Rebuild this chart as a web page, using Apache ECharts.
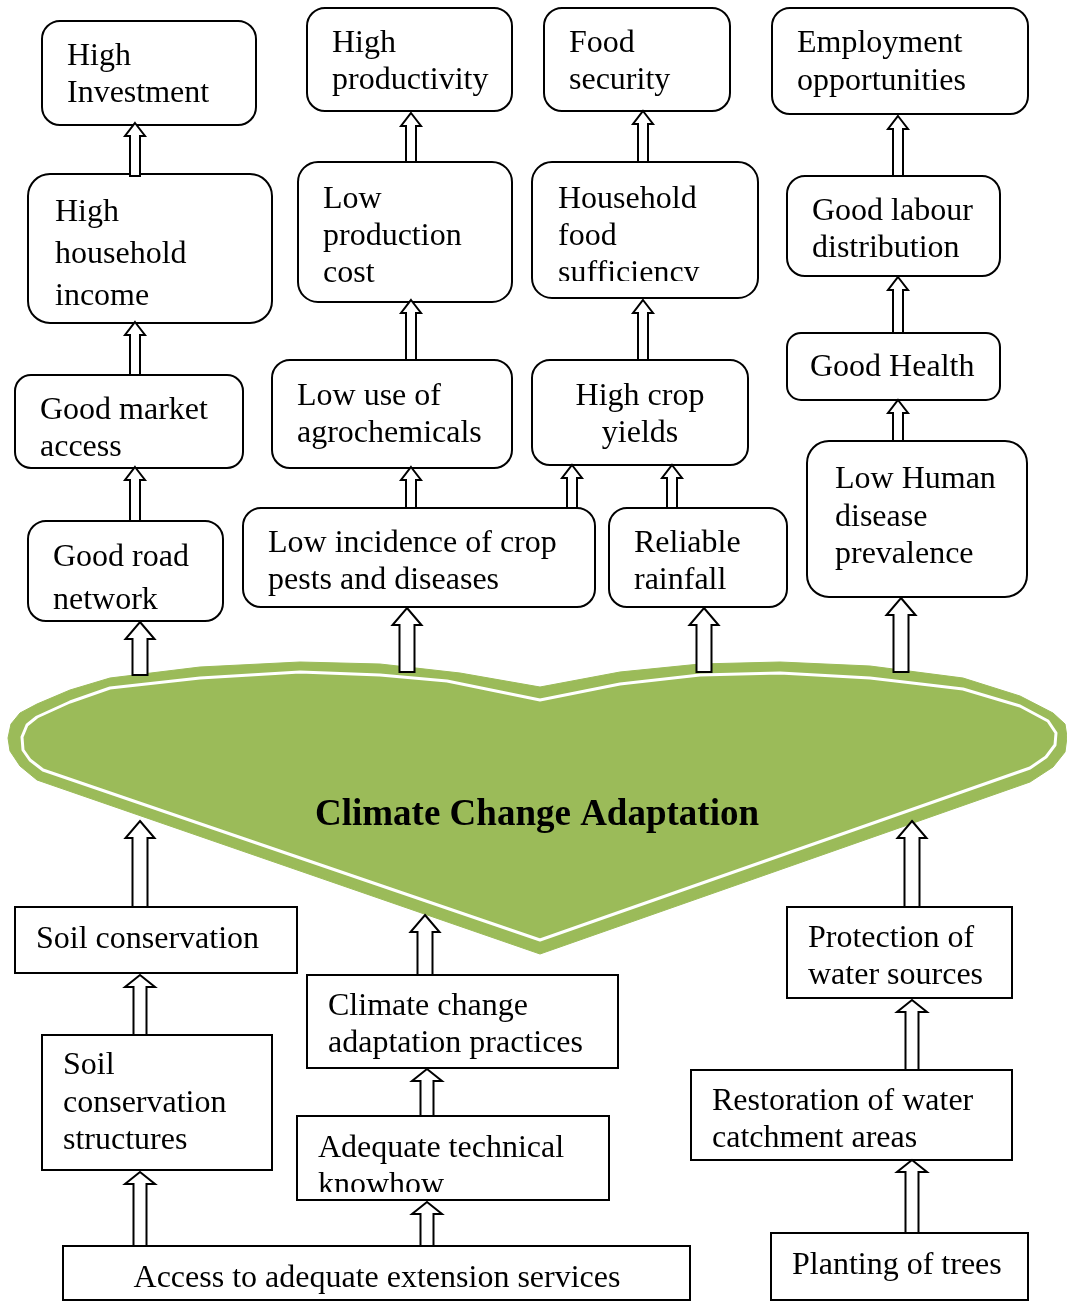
<!DOCTYPE html>
<html><head><meta charset="utf-8">
<script src="https://cdn.jsdelivr.net/npm/echarts@6/dist/echarts.min.js"></script>
<style>html,body{margin:0;padding:0;background:#fff}#c{width:1067px;height:1302px}</style>
</head><body><div id="c"></div>
<script>
// ---- Data: diagram text ----
const nodeLabels = [
  "High\nInvestment", "High\nproductivity", "Food\nsecurity", "Employment\nopportunities",
  "High\nhousehold\nincome", "Low\nproduction\ncost", "Household\nfood\nsufficiency", "Good labour\ndistribution",
  "Good market\naccess", "Low use of\nagrochemicals", "High crop\nyields", "Good Health",
  "Good road\nnetwork", "Low incidence of crop\npests and diseases", "Reliable\nrainfall", "Low Human\ndisease\nprevalence",
  "Soil conservation", "Soil\nconservation\nstructures", "Climate change\nadaptation practices", "Adequate technical\nknowhow",
  "Access to adequate extension services", "Protection of\nwater sources", "Restoration of water\ncatchment areas", "Planting of trees"
];
const centralLabel = "Climate Change Adaptation";

// ---- Layout (positions in diagram units) ----
// [x1, y1, x2, y2, textX, firstLineY, lineHeight, align, radius, clipY]
const nodeLayout = [
  [42,21,256,125, 67,54,37,'left',18],
  [307,8,512,111, 332,41,37,'left',18],
  [544,8,730,111, 569,41,37,'left',18],
  [772,8,1028,114, 797,41,38,'left',18],
  [28,174,272,323, 55,210,42,'left',22],
  [298,162,512,302, 323,197,37,'left',20],
  [532,162,758,298, 558,197,37,'left',20, 281],
  [787,176,1000,276, 812,209,37,'left',18],
  [15,375,243,468, 40,408,37,'left',16],
  [272,360,512,468, 297,394,37,'left',18],
  [532,360,748,465, 640,394,37,'center',18],
  [787,333,1000,400, 810,365,37,'left',14],
  [28,521,223,621, 53,555,43,'left',18],
  [243,508,595,607, 268,541,37,'left',18],
  [609,508,787,607, 634,541,37,'left',18],
  [807,441,1027,597, 835,477,37.5,'left',22],
  [15,907,297,973, 36,937,37,'left',0],
  [42,1035,272,1170, 63,1063,37.5,'left',0],
  [307,975,618,1068, 328,1004,37,'left',0],
  [297,1116,609,1200, 318,1146,37,'left',0, 1192],
  [63,1246,690,1300, 377,1276,37,'center',0],
  [787,907,1012,998, 808,936,37,'left',0],
  [691,1070,1012,1160, 712,1099,37,'left',0],
  [771,1233,1028,1300, 792,1263,37,'left',0]
];
const textShift = 3;

// arrows: [x, yTip, yBase, kind]
const arrowLayout = [
  [135,123,176,'s'], [411,113,162,'s'], [643,111,162,'s'], [898,116,176,'s'],
  [135,322,375,'s'], [411,300,360,'s'], [643,300,360,'s'], [898,277,333,'s'],
  [135,467,521,'s'], [411,467,508,'s'], [572,465,508,'s'], [672,465,508,'s'], [898,400,441,'s'],
  [140,622,675,'l'], [407,608,672,'l'], [704,608,672,'l'], [901,598,672,'l'],
  [140,821,907,'l'], [425,915,975,'l'], [912,821,907,'l'],
  [140,975,1035,'m'], [427,1069,1116,'m'], [912,1000,1070,'m'],
  [140,1172,1246,'m'], [427,1202,1246,'m'], [912,1160,1233,'m']
];
const arrowKinds = { s:{shaft:10, head:20, headLen:13}, m:{shaft:13, head:30, headLen:12}, l:{shaft:15, head:29, headLen:17} };

// heart-shaped banner outline
const heartOuter = [
  [540,687],[620,672],[700,664],[780,662],[870,666],[963,678],[1020,696],[1053,713],[1065,724],[1067,737],
  [1065,752],[1053,767],[1030,782],[540,954],[37,780],[20,766],[10,751],[8,738],[11,724],[20,713],[37,704],
  [70,690],[110,678],[200,667],[300,662],[380,664],[460,673]
];
const heartInner = [
  [540,700],[620,684],[700,675],[780,673],[870,678],[963,689],[1020,706],[1048,721],[1056,733],[1055,745],
  [1046,757],[1030,768],[540,940],[43,770],[30,760],[23,750],[22,737],[27,725],[37,717],[70,702],[110,688],
  [200,678],[300,672],[380,675],[447,681]
];

const GREEN = '#9BBB59';
const FONT = '"Liberation Serif","Times New Roman",serif';

const chart = echarts.init(document.getElementById('c'), null, {renderer:'canvas'});

function pt(api, p){ return api.coord(p); }

chart.setOption({
  animation: false,
  backgroundColor: '#ffffff',
  grid: {left:0, right:0, top:0, bottom:0},
  xAxis: {type:'value', min:0, max:1067, show:false},
  yAxis: {type:'value', min:0, max:1302, inverse:true, show:false},
  series: [
    {
      type:'custom', coordinateSystem:'cartesian2d', clip:false, z:1,
      data:[[540,800]],
      renderItem: function(params, api){
        const outer = heartOuter.map(p=>pt(api,p));
        const inner = heartInner.map(p=>pt(api,p));
        const c = pt(api,[537,815]);
        return {type:'group', children:[
          {type:'polygon', shape:{points:outer}, style:{fill:GREEN, stroke:GREEN, lineWidth:1}},
          {type:'polygon', shape:{points:inner}, style:{fill:GREEN, stroke:'#ffffff', lineWidth:3, lineJoin:'round'}},
          {type:'text', x:c[0], y:c[1], style:{text:centralLabel, font:'bold 37px '+FONT, fill:'#000', align:'center', verticalAlign:'middle'}}
        ]};
      }
    },
    {
      type:'custom', coordinateSystem:'cartesian2d', clip:false, z:2,
      data: nodeLayout.map((l,i)=>[l[0],l[1],l[2],l[3],i]),
      encode:{x:[0,2], y:[1,3]},
      renderItem: function(params, api){
        const i = api.value(4);
        const L = nodeLayout[i];
        const p1 = pt(api,[L[0],L[1]]), p2 = pt(api,[L[2],L[3]]);
        const tp = pt(api,[L[4], L[5]+textShift]);
        const lh = L[6];
        const children = [
          {type:'rect', shape:{x:p1[0], y:p1[1], width:p2[0]-p1[0], height:p2[1]-p1[1], r:L[8]},
           style:{fill:'#fff', stroke:'#000', lineWidth:2}},
          {type:'text', x:tp[0], y:tp[1]-lh/2,
           style:{text:nodeLabels[i], font:'32px '+FONT, fill:'#000', align:L[7], verticalAlign:'top', lineHeight:lh}}
        ];
        if (L[9]) {
          const cy = pt(api,[0,L[9]])[1];
          const inset = Math.max(L[8], 3);
          children.push({type:'rect', shape:{x:p1[0]+inset, y:cy, width:(p2[0]-p1[0])-2*inset, height:p2[1]-cy-2},
            style:{fill:'#fff'}});
        }
        return {type:'group', children};
      }
    },
    {
      type:'custom', coordinateSystem:'cartesian2d', clip:false, z:3,
      data: arrowLayout.map((a,i)=>[a[0],a[1],a[2],i]),
      encode:{x:0, y:[1,2]},
      renderItem: function(params, api){
        const a = arrowLayout[api.value(3)];
        const k = arrowKinds[a[3]];
        const tip = pt(api,[a[0],a[1]]), base = pt(api,[a[0],a[2]]);
        const x = tip[0], yt = tip[1], yb = base[1], hy = yt + k.headLen;
        const pts = [[x,yt],[x+k.head/2,hy],[x+k.shaft/2,hy],[x+k.shaft/2,yb],[x-k.shaft/2,yb],[x-k.shaft/2,hy],[x-k.head/2,hy]];
        return {type:'polygon', shape:{points:pts}, style:{fill:'#fff', stroke:'#000', lineWidth:2, lineJoin:'miter'}};
      }
    }
  ]
});
</script></body></html>
